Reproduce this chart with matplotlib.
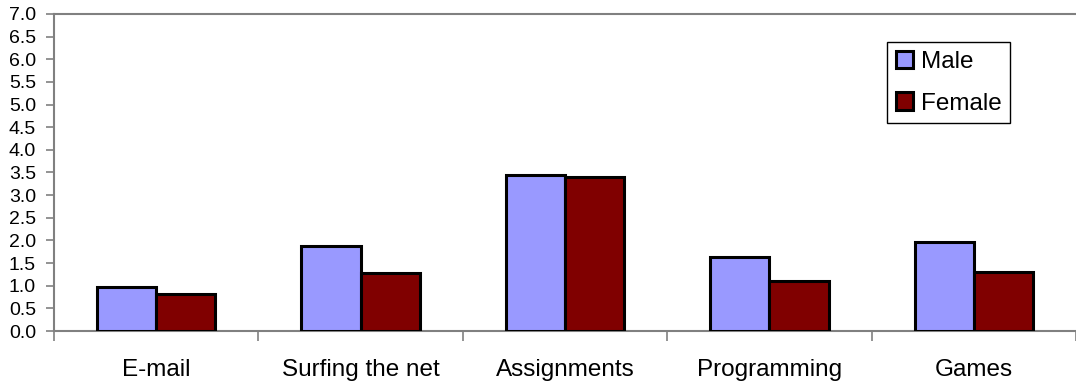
import matplotlib.pyplot as plt
import numpy as np

plt.rcParams['font.family'] = ['Liberation Sans', 'DejaVu Sans']

categories = ["E-mail", "Surfing the net", "Assignments", "Programming", "Games"]
male = [0.97, 1.88, 3.44, 1.64, 1.97]
female = [0.82, 1.28, 3.39, 1.11, 1.30]

W, H = 1076, 386
fig = plt.figure(figsize=(W / 100, H / 100), dpi=100)
ax = fig.add_axes([54 / W, 55 / H, (W - 54) / W, 317 / H])

x = np.arange(len(categories))
bw = 0.29
ax.bar(x - bw / 2, male, bw, color='#9999FF', edgecolor='black', linewidth=2.2, label='Male', zorder=3)
ax.bar(x + bw / 2, female, bw, color='#800000', edgecolor='black', linewidth=2.2, label='Female', zorder=3)

ax.set_xlim(-0.5, -0.5 + (W - 54) / 207.5)
ax.set_ylim(0, 7)
ax.set_yticks(np.arange(0, 7.01, 0.5))
ax.set_yticklabels([f"{v:.1f}" for v in np.arange(0, 7.01, 0.5)], fontsize=14)

# category boundaries get the ticks, names sit in between
ax.set_xticks(np.arange(-0.5, len(categories), 1.0))
ax.set_xticklabels([])
ax.set_xticks(x, minor=True)
ax.set_xticklabels(categories, minor=True, fontsize=17.5)
ax.tick_params(axis='x', which='major', direction='out', length=7, width=1.2, color='#808080')
ax.tick_params(axis='x', which='minor', length=0, pad=20)
ax.tick_params(axis='y', direction='out', length=6, width=1.2, color='#808080', pad=7)

for side in ['left', 'bottom', 'top']:
    ax.spines[side].set_color('#808080')
    ax.spines[side].set_linewidth(1.5)
ax.spines['right'].set_visible(False)

leg = ax.legend(loc='upper left', bbox_to_anchor=(887 / W, 1 - 42 / H),
                bbox_transform=fig.transFigure, fontsize=17.5, frameon=True,
                fancybox=False, framealpha=1, edgecolor='black',
                handlelength=0.74, handleheight=0.74, handletextpad=0.3,
                labelspacing=0.8, borderpad=0.35, borderaxespad=0)
leg.get_frame().set_linewidth(1.0)

fig.savefig("out.png", dpi=100)
